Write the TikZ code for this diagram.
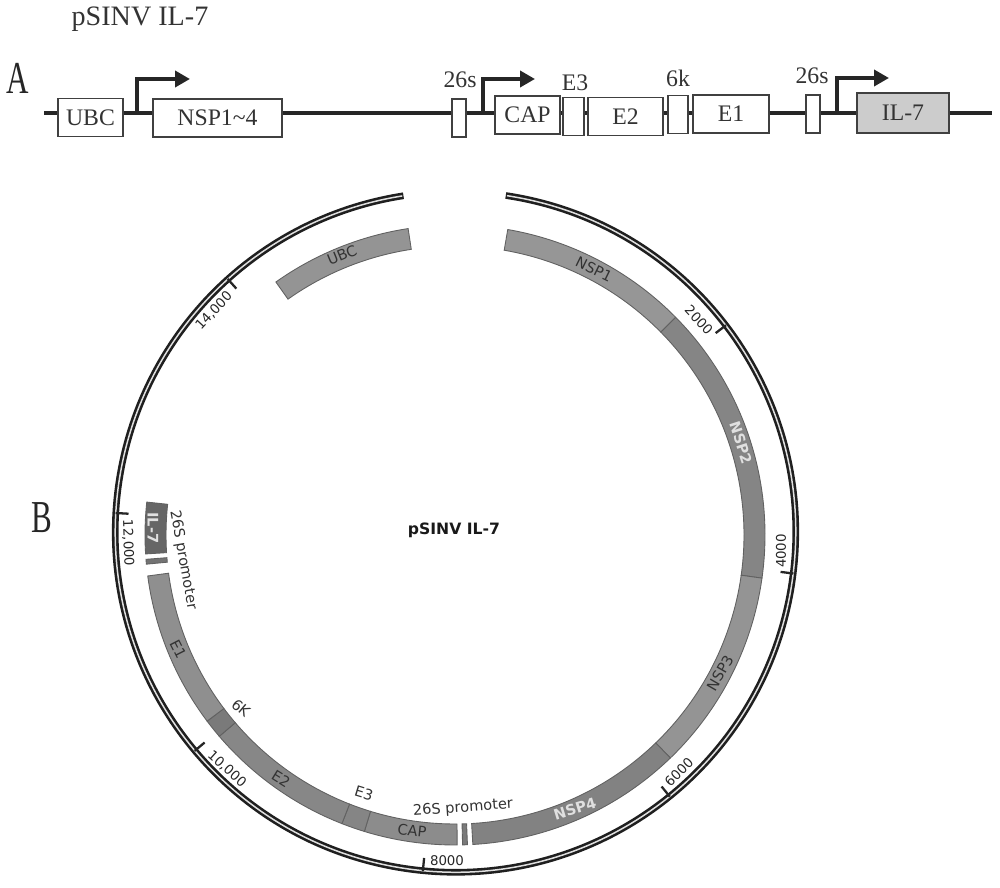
\documentclass[tikz,border=0pt]{standalone}
\usepackage{fontspec}
\setmainfont{Liberation Serif}
\newfontfamily\mapfont{DejaVu Sans}
\usetikzlibrary{arrows.meta}

\begin{document}
\begin{tikzpicture}[
  gene/.style={draw=black!75, fill=white, line width=0.9pt, inner sep=0pt,
    minimum height=0.76cm, font=\fontsize{13.5}{14}\selectfont, text=black!80},
  backbone/.style={line width=2pt, black!85},
  promoter/.style={-{Triangle[length=3mm, width=3.2mm]}, line width=2.1pt, black!85},
  title/.style={font=\fontsize{13.5}{14}\selectfont, text=black!80, inner sep=0pt},
  panel/.style={font=\fontsize{26}{28}\selectfont, text=black!85, xscale=0.68, transform shape, inner sep=0pt},
  seg/.style={draw=black!62, line width=0.5pt},
  lab/.style={font=\mapfont\fontsize{8.3}{9}\selectfont, text=black!80, inner sep=0pt},
  wlab/.style={lab, text=black!12, font=\mapfont\bfseries\fontsize{8.3}{9}\selectfont},
  tick/.style={font=\mapfont\fontsize{7.6}{8}\selectfont, text=black!85, inner sep=0pt}
]
  \useasboundingbox (0,0) rectangle (20,17.74);

  % panel A
  \node[title, font=\fontsize{16}{17}\selectfont] (name) at (2.80,17.36) {pSINV IL-7};
  \node[panel] (pA) at (0.36,16.18) {A};
  \node[panel] (pB) at (0.84,7.38) {B};

  \coordinate (lineL) at (0.88,15.48);
  \coordinate (lineR) at (19.84,15.48);

  \node[gene, minimum width=1.30cm] (UBC) at (1.81,15.39) {UBC};
  \node[gene, minimum width=2.58cm] (NSP) at (4.35,15.38) {NSP1\textasciitilde4};
  \node[gene, minimum width=0.28cm] (sa) at (9.18,15.38) {};
  \node[gene, minimum width=1.30cm] (CAP) at (10.55,15.44) {CAP};
  \node[gene, minimum width=0.42cm] (Ethree) at (11.47,15.41) {};
  \node[gene, minimum width=1.50cm] (Etwo) at (12.51,15.41) {E2};
  \node[gene, minimum width=0.40cm] (sixk) at (13.56,15.45) {};
  \node[gene, minimum width=1.52cm] (Eone) at (14.62,15.46) {E1};
  \node[gene, minimum width=0.28cm] (sb) at (16.26,15.46) {};
  \node[gene, minimum width=1.84cm, minimum height=0.80cm, fill=black!20] (IL) at (18.06,15.48) {IL-7};

  \node[title] (ta) at (9.20,16.14) {26s};
  \node[title] (tb) at (11.50,16.08) {E3};
  \node[title] (tc) at (13.56,16.18) {6k};
  \node[title] (td) at (16.24,16.22) {26s};

  \draw[backbone] (lineL) -- (UBC.west |- lineL);
  \foreach \a/\b in {UBC/NSP, NSP/sa, sa/CAP, CAP/Ethree, Ethree/Etwo, Etwo/sixk, sixk/Eone, Eone/sb, sb/IL}
    \draw[backbone] (\a.east |- lineL) -- (\b.west |- lineL);
  \draw[backbone] (IL.east |- lineL) -- (lineR);

  \coordinate (tssa) at (2.74,15.48);
  \coordinate (tipa) at (3.80,16.16);
  \coordinate (tssb) at (9.66,15.48);
  \coordinate (tipb) at (10.70,16.16);
  \coordinate (tssc) at (16.74,15.48);
  \coordinate (tipc) at (17.78,16.18);
  \draw[promoter] (tssa) |- (tipa);
  \draw[promoter] (tssb) |- (tipb);
  \draw[promoter] (tssc) |- (tipc);

  % panel B, outer ring
  \coordinate (ringc) at (9.11,7.10);
  \coordinate (segc) at (9.10,7.04);
  \draw[line width=3.8pt, black!88] (ringc) ++(81.5:6.805) arc[start angle=81.5, end angle=-261.2, radius=6.805];
  \draw[line width=0.85pt, black!12] (ringc) ++(81.3:6.805) arc[start angle=81.3, end angle=-261.0, radius=6.805];

  \foreach \ang in {37.4, -7, -51, -95.5, 220, 176.8, 132}
    \draw[line width=1.3pt, black!85] (ringc) ++(\ang:6.81) -- ++(\ang+180:0.26);

  % segments: start/end/grey
  \foreach \s/\e/\g in {80.2/44.6/41, 44.6/-8/48, -8/-46/42, -46/-86.7/49,
      -87.7/-88.6/52, -89.6/-107/45, -107/-111.4/48, -111.4/-139.5/47,
      -139.5/-143.1/52, -143.1/-172.4/44, -174.6/-175.5/55, -176.5/-186.1/60, 125.3/98.7/42}
    \filldraw[seg, fill=black!\g] (segc) ++(\s:6.20) arc[start angle=\s, end angle=\e, radius=6.20]
      -- ++(\e:-0.42) arc[start angle=\e, end angle=\s, radius=5.78] -- cycle;

  \node[lab, rotate=22] (lUBC) at (6.84,12.64) {UBC};
  \node[lab, rotate=-26] (lNSPa) at (11.88,12.36) {NSP1};
  \node[wlab, rotate=-72] (lNSPb) at (14.82,8.88) {NSP2};
  \node[lab, rotate=60] (lNSPc) at (14.40,4.28) {NSP3};
  \node[wlab, rotate=17] (lNSPd) at (11.50,1.56) {NSP4};
  \node[lab, rotate=-6] (lCAP) at (8.24,1.12) {CAP};
  \node[lab, rotate=-17] (lEthree) at (7.28,1.88) {E3};
  \node[lab, rotate=-32] (lEtwo) at (5.62,2.16) {E2};
  \node[lab, rotate=-40] (lsixk) at (4.82,3.58) {6K};
  \node[lab, rotate=-63] (lEone) at (3.56,4.76) {E1};
  \node[wlab, rotate=-90] (lIL) at (3.06,7.18) {IL-7};
  \node[lab, rotate=-80] (lpa) at (3.66,6.54) {26S promoter};
  \node[lab, rotate=4] (lpb) at (9.26,1.58) {26S promoter};

  \node[tick, rotate=-47] (ka) at (13.98,11.34) {2000};
  \node[tick, rotate=90] (kb) at (15.62,6.72) {4000};
  \node[tick, rotate=45] (kc) at (13.58,2.30) {6000};
  \node[tick] (kd) at (8.94,0.52) {8000};
  \node[tick, rotate=-42] (ke) at (4.54,2.36) {10,000};
  \node[tick, rotate=-88] (kf) at (2.56,6.88) {12,000};
  \node[tick, rotate=47] (kg) at (4.28,11.52) {14,000};

  \node[lab, font=\mapfont\bfseries\fontsize{8.9}{10}\selectfont, text=black!90] (map) at (9.08,7.14) {pSINV IL-7};
\end{tikzpicture}
\end{document}
